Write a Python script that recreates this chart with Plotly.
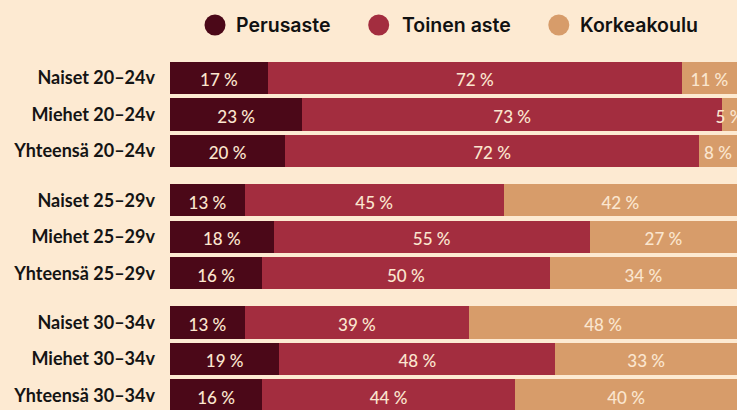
import plotly.graph_objects as go

categories = ["Naiset 20–24v", "Miehet 20–24v", "Yhteensä 20–24v",
              "Naiset 25–29v", "Miehet 25–29v", "Yhteensä 25–29v",
              "Naiset 30–34v", "Miehet 30–34v", "Yhteensä 30–34v"]
groups = [0, 0, 0, 1, 1, 1, 2, 2, 2]
perusaste = [17, 23, 20, 13, 18, 16, 13, 19, 16]
toinen_aste = [72, 73, 72, 45, 55, 50, 39, 48, 44]
korkeakoulu = [11, 5, 8, 42, 27, 34, 48, 33, 40]
series_names = ["Perusaste", "Toinen aste", "Korkeakoulu"]
series_values = [perusaste, toinen_aste, korkeakoulu]

colors = ["#4b0818", "#a32d3f", "#d79c6a"]
bg = "#fdead2"
label_col = "#fbe6cf"

GROUP_GAP = 0.35
ypos = [i + g * GROUP_GAP for i, g in enumerate(groups)]
TEXT_DY = 0.11  # nudge labels to the visual centre of the bar

W, H = 737, 410
ML = 170
PW = W - ML
XMAX = PW / 5.75

fig = go.Figure()
starts = [0] * len(categories)
for name, vals, col in zip(series_names, series_values, colors):
    fig.add_trace(go.Bar(
        y=ypos, x=vals, orientation="h", name=name,
        marker=dict(color=col, line=dict(width=0)),
        width=0.88, showlegend=False, hoverinfo="x+y",
    ))
    ends = [s + v for s, v in zip(starts, vals)]
    mids = [(s + min(e, XMAX)) / 2 for s, e in zip(starts, ends)]
    fig.add_trace(go.Scatter(
        x=mids, y=[p + TEXT_DY for p in ypos], mode="text",
        text=[f"{v} %" for v in vals],
        textposition="middle center",
        textfont=dict(family="Lato", size=17, color=label_col, weight=500),
        cliponaxis=True, showlegend=False, hoverinfo="skip",
    ))
    starts = ends

# manual legend (large circle markers)
legend_px = [(215, 235), (378.7, 400.5), (558.8, 579)]
shapes = []
annotations = []
for (cx, tx), name, col in zip(legend_px, series_names, colors):
    shapes.append(dict(type="circle", xref="paper", yref="paper",
                       xsizemode="pixel", ysizemode="pixel",
                       xanchor=(cx - ML) / PW, yanchor=1 - 25 / H,
                       x0=-10.5, x1=10.5, y0=-10.5, y1=10.5,
                       fillcolor=col, line=dict(width=0)))
    annotations.append(dict(text=name, xref="paper", yref="paper",
                            x=(tx - 1 - ML) / PW, y=1 - 25 / H,
                            xanchor="left", yanchor="middle", showarrow=False,
                            font=dict(family="Inter", size=19.5, color="#111111", weight=600)))

px_per_unit = 36.5
y_top = -78 / px_per_unit
y_bot = (H - 78) / px_per_unit

fig.update_layout(
    width=W, height=H,
    barmode="stack",
    margin=dict(l=ML, r=0, t=0, b=0),
    paper_bgcolor=bg, plot_bgcolor=bg,
    shapes=shapes, annotations=annotations,
    xaxis=dict(range=[0, XMAX], visible=False, fixedrange=True),
    yaxis=dict(range=[y_bot, y_top], tickvals=ypos, ticktext=categories,
               showgrid=False, zeroline=False, showline=False, fixedrange=True,
               ticks="", ticklabelstandoff=14,
               tickfont=dict(family="Lato", size=18, color="#141414", weight=700)),
    showlegend=False,
)

fig.write_html("out.html", config={"displayModeBar": False},
               post_script="document.body.style.margin='0';document.body.style.background='" + bg + "';")
